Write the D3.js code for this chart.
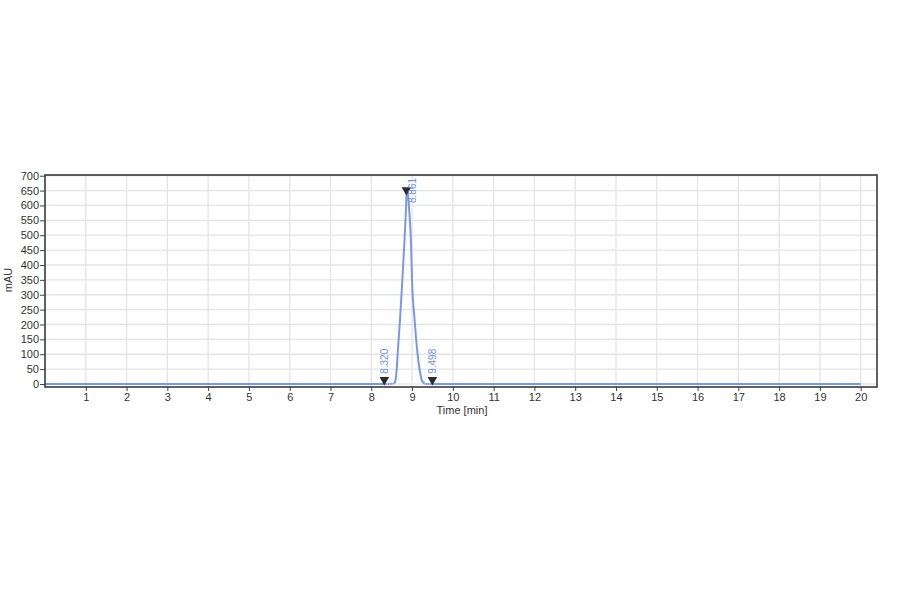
<!DOCTYPE html>
<html>
<head>
<meta charset="utf-8">
<script src="https://cdn.jsdelivr.net/npm/d3@7"></script>
<style>
  body { margin: 0; background: #fff; }
  svg { display: block; }
  text { font-family: "Liberation Sans", Arial, sans-serif; }
</style>
</head>
<body>
<svg id="chart" width="900" height="594"></svg>
<script>
// ---- data ----
const timeValues = [0, 8.45, 8.50, 8.56, 8.585, 8.626, 8.65, 8.707, 8.76, 8.806, 8.847, 8.87, 8.895, 8.936, 8.977, 9.00, 9.06, 9.13, 9.18, 9.255, 9.32, 9.40, 20];
const signalValues = [0, 0, 0.5, 2, 8, 53, 108, 221, 345, 461, 573, 652, 640, 573, 461, 345, 221, 108, 53, 8, 1, 0, 0];
const peakTimes = [8.320, 8.861, 9.498];
const peakMarkerValues = [14, 652, 14];
const peakLabels = ["8.320", "8.861", "9.498"];
const xTicks = [1, 2, 3, 4, 5, 6, 7, 8, 9, 10, 11, 12, 13, 14, 15, 16, 17, 18, 19, 20];
const yTicks = [0, 50, 100, 150, 200, 250, 300, 350, 400, 450, 500, 550, 600, 650, 700];
const baselineSpan = [8.320, 9.498];

const svg = d3.select("#chart");
const pLeft = 45, pRight = 877, pTop = 175, pBottom = 387;

const x = d3.scaleLinear().domain([0, 20.40]).range([pLeft, pRight]);
const y = d3.scaleLinear().domain([-10.1, 702.4]).range([pBottom, pTop]);

const lineColor = "#7b98e6";
const labelColor = "#6f8fe0";

// grid
const grid = svg.append("g");
grid.selectAll("line.v").data(xTicks).join("line")
  .attr("class", "v")
  .attr("x1", d => x(d)).attr("x2", d => x(d))
  .attr("y1", pTop).attr("y2", pBottom)
  .attr("stroke", "#e4e4e4").attr("stroke-width", 1.3);
grid.selectAll("line.h").data(yTicks).join("line")
  .attr("class", "h")
  .attr("x1", pLeft).attr("x2", pRight)
  .attr("y1", d => y(d)).attr("y2", d => y(d))
  .attr("stroke", "#e4e4e4").attr("stroke-width", 1.3);

// axes
const xAxis = d3.axisBottom(x).tickValues(xTicks).tickSize(4).tickPadding(2).tickFormat(d3.format("d"));
const gx = svg.append("g").attr("transform", `translate(0,${pBottom})`).call(xAxis);
gx.select(".domain").remove();
gx.selectAll("text").attr("font-size", 11).attr("fill", "#333");
gx.selectAll("line").attr("stroke", "#444");

const yAxis = d3.axisLeft(y).tickValues(yTicks).tickSize(5).tickPadding(1).tickFormat(d3.format("d"));
const gy = svg.append("g").attr("transform", `translate(${pLeft},0)`).call(yAxis);
gy.select(".domain").remove();
gy.selectAll("text").attr("font-size", 11).attr("fill", "#333");
gy.selectAll("line").attr("stroke", "#444");

// signal line
const pts = timeValues.map((t, i) => [t, signalValues[i]]);
const line = d3.line().x(d => x(d[0])).y(d => y(d[1])).curve(d3.curveMonotoneX);
svg.append("path").datum(pts)
  .attr("d", line)
  .attr("fill", "none")
  .attr("stroke", lineColor)
  .attr("stroke-width", 2);

// baseline integration dotted line
svg.append("line")
  .attr("x1", x(baselineSpan[0])).attr("x2", x(baselineSpan[1]))
  .attr("y1", y(0)).attr("y2", y(0))
  .attr("stroke", "#ffffff").attr("stroke-width", 1)
  .attr("stroke-dasharray", "1,1.5");

// frame
svg.append("rect")
  .attr("x", pLeft).attr("y", pTop)
  .attr("width", pRight - pLeft).attr("height", pBottom - pTop)
  .attr("fill", "none").attr("stroke", "#3a3a3a").attr("stroke-width", 1.6);

// peak markers
const tri = d3.symbol().type(d3.symbolTriangle).size(40);
svg.selectAll("path.marker").data(peakTimes).join("path")
  .attr("class", "marker")
  .attr("d", tri)
  .attr("transform", (d, i) => `translate(${x(d)},${y(peakMarkerValues[i])}) rotate(180)`)
  .attr("fill", "#2b2b2b");

// peak labels
svg.selectAll("text.plabel").data(peakTimes).join("text")
  .attr("class", "plabel")
  .attr("transform", (d, i) => {
    const px = x(d) + (i === 1 ? 10 : 4);
    const py = y(peakMarkerValues[i]) - (i === 1 ? -13 : 6);
    return `translate(${px},${py}) rotate(-90)`;
  })
  .attr("font-size", 10)
  .attr("fill", labelColor)
  .text((d, i) => peakLabels[i]);

// axis titles
svg.append("text")
  .attr("x", 462).attr("y", 414)
  .attr("text-anchor", "middle")
  .attr("font-size", 11).attr("fill", "#333")
  .text("Time [min]");
svg.append("text")
  .attr("transform", "translate(12,280) rotate(-90)")
  .attr("text-anchor", "middle")
  .attr("font-size", 11).attr("fill", "#333")
  .text("mAU");
</script>
</body>
</html>
